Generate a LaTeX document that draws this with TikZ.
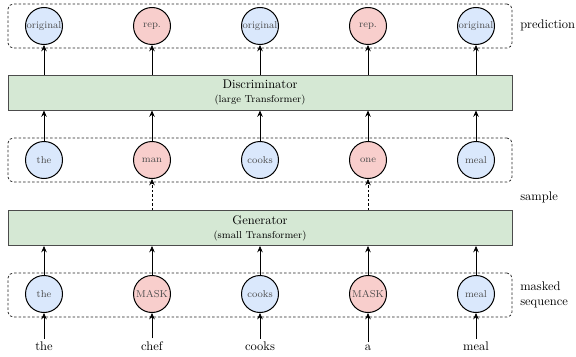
\documentclass[tikz,border=0pt]{standalone}
\usepackage{tikz}
\usetikzlibrary{positioning,arrows.meta}
\definecolor{tokblue}{HTML}{DAE8FC}
\definecolor{tokred}{HTML}{F8CECC}
\definecolor{modgreen}{HTML}{D5E8D4}
\begin{document}
\begin{tikzpicture}[
    x=0.8pt, y=0.8pt,
    >={Stealth[length=5pt, width=4.4pt]},
    token/.style={circle, draw, thick, minimum size=29.6pt, inner sep=0pt, font=\footnotesize, text=black!70},
    orig/.style={token, fill=tokblue},
    repl/.style={token, fill=tokred},
    model/.style={draw=black!70, thick, fill=modgreen, minimum width=403.2pt, minimum height=28pt, align=center},
    seqbox/.style={draw=black!85, semithick, dash pattern=on 2pt off 1.6pt, rounded corners=4pt, minimum width=403.2pt, minimum height=35.2pt},
    word/.style={anchor=base, inner sep=2pt},
    lbl/.style={anchor=west, align=left, inner sep=0pt}
]
    \useasboundingbox (0,0) rectangle (576,356);

    % Dashed groups
    \node[seqbox] (predbox) at (260,330) {};
    \node[seqbox] (samplebox) at (260,196) {};
    \node[seqbox] (maskbox) at (260,61) {};

    % Models
    \node[model] (disc) at (260,263.5) {Discriminator\\[-1pt]{\footnotesize (large Transformer)}};
    \node[model] (gen) at (260,128) {Generator\\[-1pt]{\footnotesize (small Transformer)}};

    % Input words
    \node[word] (w1) at (44,6) {the};
    \node[word] (w2) at (152,6) {chef};
    \node[word] (w3) at (260,6) {cooks};
    \node[word] (w4) at (368,6) {a};
    \node[word] (w5) at (476,6) {meal};

    % Masked sequence
    \node[orig] (m1) at (44,62) {the};
    \node[repl] (m2) at (152,62) {MASK};
    \node[orig] (m3) at (260,62) {cooks};
    \node[repl] (m4) at (368,62) {MASK};
    \node[orig] (m5) at (476,62) {meal};

    % Sampled sequence
    \node[orig] (s1) at (44,196) {the};
    \node[repl] (s2) at (152,196) {man};
    \node[orig] (s3) at (260,196) {cooks};
    \node[repl] (s4) at (368,196) {one};
    \node[orig] (s5) at (476,196) {meal};

    % Predictions
    \node[orig] (p1) at (44,330) {original};
    \node[repl] (p2) at (152,330) {rep.};
    \node[orig] (p3) at (260,330) {original};
    \node[repl] (p4) at (368,330) {rep.};
    \node[orig] (p5) at (476,330) {original};

    % Row labels
    \node[lbl] (lpred) at (520,331) {prediction};
    \node[lbl] (lsample) at (520,159) {sample};
    \node[lbl] (lmask) at (520,61) {masked\\sequence};

    % Connections
    \foreach \i in {1,...,5} {
        \draw[->, semithick] (w\i) -- (m\i);
        \draw[->, semithick] (m\i) -- (m\i |- gen.south);
        \draw[->, semithick] (s\i) -- (s\i |- disc.south);
        \draw[->, semithick] (p\i |- disc.north) -- (p\i);
    }
    \draw[->, semithick, dash pattern=on 2pt off 1.6pt] (s2 |- gen.north) -- (s2);
    \draw[->, semithick, dash pattern=on 2pt off 1.6pt] (s4 |- gen.north) -- (s4);
\end{tikzpicture}
\end{document}
